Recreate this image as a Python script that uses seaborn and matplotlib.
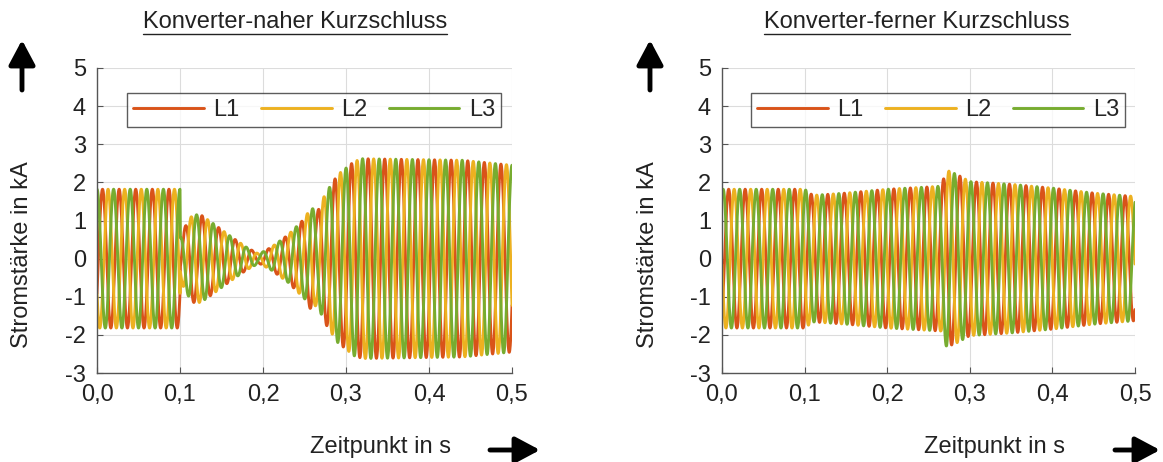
import numpy as np
import pandas as pd
import matplotlib
matplotlib.use("Agg")
import matplotlib.pyplot as plt
import seaborn as sns

# ---------------- data ----------------
phases = ["L1", "L2", "L3"]
phase_shift_deg = [0, -120, 120]
colors = ["#D95319", "#EDB120", "#77AC30"]
freq_hz = 50.0

# amplitude envelope (kA) of the three-phase currents, knots
near_t = [0.0, 0.100, 0.1005, 0.105, 0.115, 0.125, 0.14, 0.16, 0.18, 0.195,
          0.21, 0.23, 0.25, 0.258, 0.265, 0.275, 0.29, 0.31, 0.32, 0.44, 0.5]
near_amp = [1.82, 1.82, 0.55, 0.8, 1.15, 1.15, 0.92, 0.6, 0.3, 0.12,
            0.3, 0.62, 1.05, 1.35, 1.2, 1.7, 2.2, 2.55, 2.62, 2.58, 2.45]

far_t = [0.0, 0.100, 0.11, 0.15, 0.2, 0.25, 0.265, 0.272, 0.285, 0.30,
         0.35, 0.40, 0.45, 0.5]
far_amp = [1.82, 1.82, 1.66, 1.72, 1.82, 1.88, 1.9, 2.32, 2.2, 2.02,
           1.95, 1.85, 1.72, 1.63]

titles = ["Konverter-naher Kurzschluss", "Konverter-ferner Kurzschluss"]
x_ticks = [0.0, 0.1, 0.2, 0.3, 0.4, 0.5]
x_ticklabels = ["0,0", "0,1", "0,2", "0,3", "0,4", "0,5"]
y_ticks = [-3, -2, -1, 0, 1, 2, 3, 4, 5]
ylabel = "Stromstärke in kA"
xlabel = "Zeitpunkt in s"

# ---------------- build long-form frames ----------------
t = np.linspace(0, 0.5, 4001)


def make_frame(kt, ka, start_phase_deg):
    env = np.interp(t, kt, ka)
    rows = []
    for name, sh in zip(phases, phase_shift_deg):
        y = env * np.sin(2 * np.pi * freq_hz * t + np.deg2rad(start_phase_deg + sh))
        rows.append(pd.DataFrame({"t": t, "I": y, "Phase": name}))
    return pd.concat(rows, ignore_index=True)


frames = [make_frame(near_t, near_amp, -30), make_frame(far_t, far_amp, -55)]

# ---------------- figure ----------------
sns.set_theme(style="white")
plt.rcParams["font.family"] = ["Liberation Sans", "DejaVu Sans"]
plt.rcParams["axes.unicode_minus"] = False

FS = 17
fig = plt.figure(figsize=(11.63, 4.62), dpi=100)
W, H = 1163, 462
ax_px = [(97, 512), (722, 1135)]
top_px, bot_px = 68, 373
axes = []
for (x0, x1) in ax_px:
    ax = fig.add_axes([x0 / W, 1 - bot_px / H, (x1 - x0) / W, (bot_px - top_px) / H])
    axes.append(ax)

for i, ax in enumerate(axes):
    sns.lineplot(data=frames[i], x="t", y="I", hue="Phase", palette=colors,
                 hue_order=phases, estimator=None, sort=False, lw=2.1, ax=ax)
    ax.set_xlim(0, 0.5)
    ax.set_ylim(-3, 5)
    ax.set_xticks(x_ticks)
    ax.set_xticklabels(x_ticklabels)
    ax.set_yticks(y_ticks)
    ax.grid(True, color="#dcdcdc", lw=0.8)
    ax.set_axisbelow(True)
    for s in ["top", "right"]:
        ax.spines[s].set_visible(False)
    for s in ["left", "bottom"]:
        ax.spines[s].set_color("#555555")
        ax.spines[s].set_linewidth(1.0)
    ax.tick_params(axis="both", direction="in", length=4, width=0.8,
                   color="#555555", labelsize=FS, labelcolor="#222222",
                   left=True, bottom=True)
    ax.tick_params(axis="x", pad=8)
    ax.tick_params(axis="y", pad=8)
    ax.set_xlabel("")
    ax.set_ylabel("")
    leg = ax.legend(loc="upper center", bbox_to_anchor=(0.523, 0.918), ncol=3,
                    fontsize=FS, frameon=True, fancybox=False, handlelength=3.0,
                    columnspacing=0.9, handletextpad=0.4, borderpad=0.25,
                    borderaxespad=0.0, edgecolor="#333333")
    leg.get_frame().set_linewidth(1.0)
    for lh in leg.get_lines():
        lh.set_linewidth(2.1)

# titles, labels, arrows
title_x = [295, 917]
ylab_x = [22, 648]
xlab_x = [380, 995]
up_x = [22, 650]
right_arrow = [(490, 540), (1115, 1160)]
arrow_style = "-|>,head_length=0.75,head_width=0.4"
title_texts = []
for i in range(2):
    tt = fig.text(title_x[i] / W, 1 - 22 / H, titles[i], ha="center", va="center",
                  fontsize=FS, color="#222222")
    title_texts.append(tt)
    fig.text(ylab_x[i] / W, 1 - 255 / H, ylabel, rotation=90, ha="center",
             va="center", fontsize=FS, color="#222222")
    fig.text(xlab_x[i] / W, 1 - 447 / H, xlabel, ha="center", va="center",
             fontsize=FS, color="#222222")
    fig.add_artist(matplotlib.patches.FancyArrowPatch(
        (up_x[i] / W, 1 - 90 / H), (up_x[i] / W, 1 - 40 / H),
        transform=fig.transFigure, arrowstyle=arrow_style,
        lw=3.5, color="black", mutation_scale=20, capstyle="round",
        shrinkA=0, shrinkB=0))
    xa, xb = right_arrow[i]
    fig.add_artist(matplotlib.patches.FancyArrowPatch(
        (xa / W, 1 - 450 / H), (xb / W, 1 - 450 / H),
        transform=fig.transFigure, arrowstyle=arrow_style,
        lw=3.5, color="black", mutation_scale=20, capstyle="round",
        shrinkA=0, shrinkB=0))

# underline titles
fig.canvas.draw()
rend = fig.canvas.get_renderer()
for tt in title_texts:
    bb = tt.get_window_extent(renderer=rend).transformed(fig.transFigure.inverted())
    fig.add_artist(matplotlib.lines.Line2D([bb.x0, bb.x1], [bb.y0 - 0.002, bb.y0 - 0.002],
                                           transform=fig.transFigure,
                                           color="#222222", lw=1.0))

fig.savefig("out.png", dpi=100)
